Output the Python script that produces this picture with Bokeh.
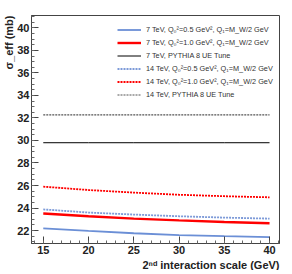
from bokeh.plotting import figure
from bokeh.models import Range1d, Legend, LegendItem, Title, FixedTicker
from bokeh.embed import file_html
from bokeh.resources import INLINE

# data
scale = [15, 20, 25, 30, 35, 40]
tev7_q05 = [22.2, 21.97, 21.76, 21.6, 21.5, 21.42]
tev7_q10 = [23.52, 23.27, 23.06, 22.9, 22.76, 22.65]
tev7_pythia = [29.8, 29.8, 29.8, 29.8, 29.8, 29.8]
tev14_q05 = [23.88, 23.6, 23.42, 23.27, 23.15, 23.06]
tev14_q10 = [25.9, 25.6, 25.37, 25.18, 25.05, 24.95]
tev14_pythia = [32.27, 32.27, 32.27, 32.27, 32.27, 32.27]

labels = [
    "7 TeV, Q₀²=0.5 GeV², Q₁=M_W/2 GeV",
    "7 TeV, Q₀²=1.0 GeV², Q₁=M_W/2 GeV",
    "7 TeV, PYTHIA 8 UE Tune",
    "14 TeV, Q₀²=0.5 GeV², Q₁=M_W/2 GeV",
    "14 TeV, Q₀²=1.0 GeV², Q₁=M_W/2 GeV",
    "14 TeV, PYTHIA 8 UE Tune",
]
x_ticks = [15, 20, 25, 30, 35, 40]
y_ticks = [22, 24, 26, 28, 30, 32, 34, 36, 38, 40]

FONT = "Liberation Sans"

p = figure(frame_width=248, frame_height=228, output_backend="svg", toolbar_location=None,
           x_range=Range1d(13.7, 41.1), y_range=Range1d(20.85, 41.1),
           min_border_left=4, min_border_right=4, min_border_top=15, min_border_bottom=2)
p.grid.visible = False
p.outline_line_color = "#444444"
p.outline_line_width = 1
p.background_fill_color = "white"
p.border_fill_color = "white"

styles = [
    (tev7_q05, "#6b8fd6", 1.8, "solid"),
    (tev7_q10, "#ff0000", 2.4, "solid"),
    (tev7_pythia, "#000000", 1.0, "solid"),
    (tev14_q05, "#7d9ad8", 1.8, "2 1"),
    (tev14_q10, "#ff0000", 1.8, "2 1"),
    (tev14_pythia, "#555555", 1.2, "2 1"),
]
renderers = []
for ys, col, w, dash in styles:
    r = p.line(scale, ys, line_color=col, line_width=w, line_dash=dash)
    renderers.append(r)

for ax in (p.xaxis[0], p.yaxis[0]):
    ax.major_tick_in = 7
    ax.major_tick_out = 0
    ax.minor_tick_in = 3
    ax.minor_tick_out = 0
    ax.axis_line_color = "#444444"
    ax.major_tick_line_color = "#444444"
    ax.minor_tick_line_color = "#666666"
    ax.major_label_text_font = FONT
    ax.major_label_text_font_style = "bold"
    ax.major_label_text_font_size = "11px"
    ax.major_label_text_color = "#222222"
    ax.major_label_standoff = 2

p.xaxis[0].ticker = FixedTicker(ticks=x_ticks, minor_ticks=list(range(14, 42)))
p.yaxis[0].ticker = FixedTicker(ticks=y_ticks,
                                minor_ticks=[21 + 0.5 * i for i in range(41)])

xt = Title(text="2ⁿᵈ interaction scale (GeV)", align="right", text_font=FONT,
           text_font_size="11px", text_font_style="bold", text_color="#222222",
           standoff=0, offset=0)
p.add_layout(xt, "below")
yt = Title(text="σ_eff (mb)", align="right", text_font=FONT,
           text_font_size="11px", text_font_style="bold", text_color="#222222",
           standoff=0, offset=0)
p.add_layout(yt, "left")

items = [LegendItem(label=l, renderers=[r]) for l, r in zip(labels, renderers)]
legend = Legend(items=items, location=(86, 142), padding=0, margin=0,
                spacing=0, glyph_width=24, glyph_height=13, label_height=13,
                label_standoff=5, label_text_font=FONT, label_text_font_size="7.3px",
                label_text_color="#333333", border_line_alpha=0,
                background_fill_alpha=0)
p.add_layout(legend, "center")

open("out.html", "w").write(file_html(p, INLINE))
